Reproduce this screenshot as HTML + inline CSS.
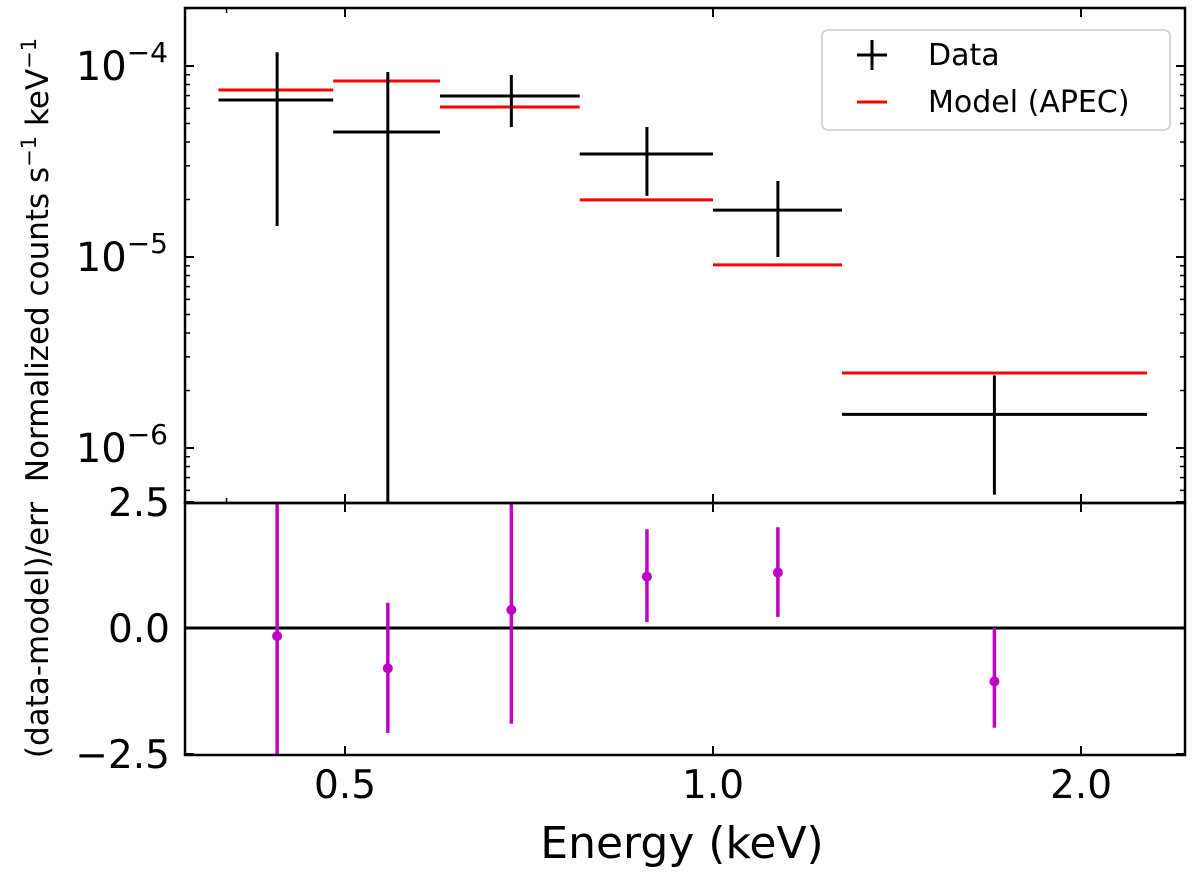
<!DOCTYPE html>
<html><head><meta charset="utf-8"><style>
body{margin:0;background:#fff;width:1200px;height:870px;overflow:hidden}
svg{font-family:"DejaVu Sans","Liberation Sans",sans-serif}
</style></head><body>
<svg id="chart" width="1200" height="870" viewBox="0 0 1200 870" xmlns="http://www.w3.org/2000/svg"></svg>
<script>
const binLo=[0.394,0.489,0.598,0.778,1.0,1.275];
const binHi=[0.489,0.598,0.778,1.0,1.275,2.265];
const binCenter=[0.440,0.542,0.684,0.883,1.130,1.699];
const dataVal=[6.64e-5,4.51e-5,6.96e-5,3.46e-5,1.76e-5,1.5e-6];
const dataUp=[1.18e-4,9.3e-5,8.97e-5,4.79e-5,2.5e-5,2.4e-6];
const dataDown=[1.45e-5,1e-7,4.79e-5,2.09e-5,1.0e-5,5.7e-7];
const modelVal=[7.49e-5,8.35e-5,6.1e-5,1.99e-5,9.1e-6,2.47e-6];
const resid=[-0.16,-0.8,0.36,1.02,1.1,-1.06];
const residUp=[3,0.5,2.6,1.96,2.0,0.0];
const residDown=[-3,-2.08,-1.9,0.12,0.22,-1.98];
const xTicks=[0.5,1.0,2.0];
const xTickLabels=["0.5","1.0","2.0"];
const yTicksExp=[-4,-5,-6];
const rTicks=[2.5,0,-2.5];
const rTickLabels=["2.5","0.0","\u22122.5"];

const L=185,R=1185,T1=8,B1=503,B2=755;
const X=e=>713+368*Math.log2(e);
const Y=v=>66-191*(Math.log10(v)+4);
const RY=r=>628-50.4*r;
const svg=document.getElementById('chart');
const NS='http://www.w3.org/2000/svg';
function mk(tag,attrs,parent){const el=document.createElementNS(NS,tag);for(const k in attrs)el.setAttribute(k,attrs[k]);(parent||svg).appendChild(el);return el;}
const clipDefs=mk('defs',{});
const c1=mk('clipPath',{id:'c1'},clipDefs);mk('rect',{x:L,y:T1,width:R-L,height:B1-T1},c1);
const c2=mk('clipPath',{id:'c2'},clipDefs);mk('rect',{x:L,y:B1,width:R-L,height:B2-B1},c2);
const g1=mk('g',{'clip-path':'url(#c1)'});


const g2=mk('g',{'clip-path':'url(#c2)'});



for(let i=0;i<binLo.length;i++){
  const m=mk('line',{x1:X(binLo[i]),x2:X(binHi[i]),y1:Y(modelVal[i]),y2:Y(modelVal[i]),stroke:'#f00','stroke-width':3},g1);
  
  
  const h=mk('line',{x1:X(binLo[i]),x2:X(binHi[i]),y1:Y(dataVal[i]),y2:Y(dataVal[i]),stroke:'#000','stroke-width':3},g1);
  
  
  const v=mk('line',{x1:X(binCenter[i]),x2:X(binCenter[i]),y1:Y(dataUp[i]),y2:Y(dataDown[i]),stroke:'#000','stroke-width':3},g1);
  
  
}
const zl=mk('line',{x1:L,x2:R,y1:RY(0),y2:RY(0),stroke:'#000','stroke-width':3},g2);


for(let i=0;i<resid.length;i++){
  const v=mk('line',{x1:X(binCenter[i]),x2:X(binCenter[i]),y1:RY(residUp[i]),y2:RY(residDown[i]),stroke:'#c000c0','stroke-width':3.5},g2);
  
  
  const p=mk('circle',{cx:X(binCenter[i]),cy:RY(resid[i]),r:5,fill:'#c000c0'},g2);
  
  
}
const f1=mk('rect',{x:L,y:T1,width:R-L,height:B1-T1,fill:'none',stroke:'#000','stroke-width':2.5});


const f2=mk('rect',{x:L,y:B1,width:R-L,height:B2-B1,fill:'none',stroke:'#000','stroke-width':2.5});


xTicks.forEach((t,i)=>{
  const x=X(t);
  [[B2,B2-9],[B1,B1-9],[B1,B1+9],[T1,T1+9]].forEach(p=>mk('line',{x1:x,x2:x,y1:p[0],y2:p[1],stroke:'#000','stroke-width':2}));
  const tx=mk('text',{x:x,y:798,'font-size':39,'text-anchor':'middle'});tx.textContent=xTickLabels[i];
  
  
});
[0.4].forEach(t=>{const x=X(t);mk('line',{x1:x,x2:x,y1:T1,y2:T1+5,stroke:'#000','stroke-width':1.5});mk('line',{x1:x,x2:x,y1:B1,y2:B1-5,stroke:'#000','stroke-width':1.5});});
yTicksExp.forEach(e=>{
  const y=Y(Math.pow(10,e));
  mk('line',{x1:L,x2:L+9,y1:y,y2:y,stroke:'#000','stroke-width':2});
  mk('line',{x1:R,x2:R-9,y1:y,y2:y,stroke:'#000','stroke-width':2});
  const tx=mk('text',{x:168,y:y+14,'font-size':40,'text-anchor':'end'});
  tx.innerHTML='10<tspan dy="-18" font-size="28">\u2212'+(-e)+'</tspan>';
  
  
});
for(let e=-7;e<=-4;e++)for(let m=2;m<=9;m++){
  const y=Y(m*Math.pow(10,e));if(y<T1||y>B1)continue;
  mk('line',{x1:L,x2:L+5,y1:y,y2:y,stroke:'#000','stroke-width':1.5});
  mk('line',{x1:R,x2:R-5,y1:y,y2:y,stroke:'#000','stroke-width':1.5});
}
rTicks.forEach((r,i)=>{
  const y=RY(r);
  mk('line',{x1:L,x2:L+9,y1:y,y2:y,stroke:'#000','stroke-width':2});
  mk('line',{x1:R,x2:R-9,y1:y,y2:y,stroke:'#000','stroke-width':2});
  const tx=mk('text',{x:170,y:y+14,'font-size':39,'text-anchor':'end'});tx.textContent=rTickLabels[i];
  
  
});
let t=mk('text',{x:682,y:858,'font-size':44,'text-anchor':'middle'});t.textContent='Energy (keV)';


t=mk('text',{x:0,y:0,'font-size':31,'text-anchor':'middle',transform:'translate(48,260) rotate(-90)'});
t.innerHTML='Normalized counts s<tspan dy="-12" font-size="21">\u22121</tspan><tspan dy="12"> keV</tspan><tspan dy="-12" font-size="21">\u22121</tspan>';


t=mk('text',{x:0,y:0,'font-size':31,'text-anchor':'middle',transform:'translate(48,630) rotate(-90)'});t.textContent='(data-model)/err';


const lg=mk('g',{});


mk('rect',{x:822,y:30,width:348,height:100,rx:6,fill:'#fff',stroke:'#ccc','stroke-width':1.5},lg);
mk('line',{x1:857,x2:887,y1:55,y2:55,stroke:'#000','stroke-width':3},lg);
mk('line',{x1:872,x2:872,y1:40,y2:70,stroke:'#000','stroke-width':3},lg);
let lt=mk('text',{x:928,y:65,'font-size':30},lg);lt.textContent='Data';


mk('line',{x1:857,x2:887,y1:102,y2:102,stroke:'#f00','stroke-width':3},lg);
lt=mk('text',{x:928,y:112,'font-size':30},lg);lt.textContent='Model (APEC)';


</script>
</body></html>
